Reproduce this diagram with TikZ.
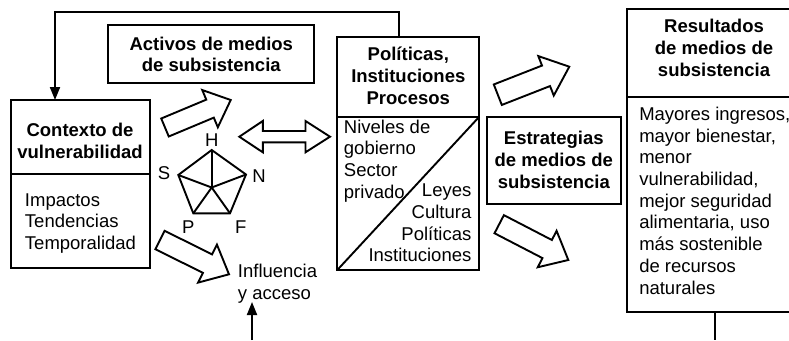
\documentclass[tikz,border=0pt]{standalone}
\usepackage{fontspec}
\setmainfont{Liberation Sans}
\usetikzlibrary{calc,arrows.meta}
\newcommand\blockarr[5]{% tail, tip, shaft half width, head half width, head length
  \path ($(#2)!#5!(#1)$) coordinate (hb);
  \draw[barr] ($(#1)!#3!90:(#2)$) -- ($(hb)!#3!-90:(#1)$) -- ($(hb)!#4!-90:(#1)$) -- (#2)
    -- ($(hb)!#4!90:(#1)$) -- ($(hb)!#3!90:(#1)$) -- ($(#1)!#3!-90:(#2)$) -- cycle;}
\begin{document}
\begin{tikzpicture}[x=1pt,y=-1pt, line width=1.9pt, line join=miter,
  box/.style={draw, inner sep=0pt, outer sep=0pt, anchor=north west},
  txt/.style={inner sep=0pt, font=\fontsize{18.5}{21.7}\selectfont},
  btxt/.style={inner sep=0pt, font=\fontsize{18.5}{21.7}\selectfont\bfseries},
  barr/.style={draw, fill=white, line join=miter},
  conn/.style={-{Triangle[length=13pt,width=10pt]}}]
\useasboundingbox (0,0) rectangle (789,340);

% boxes
\node[box, minimum width=139pt, minimum height=168.3pt] (ctx) at (11,100) {};
\node[box, minimum width=206pt, minimum height=57.7pt] (act) at (108.3,25) {};
\node[box, minimum width=142pt, minimum height=232.7pt] (pol) at (337.3,37.3) {};
\node[box, minimum width=134.3pt, minimum height=87pt] (est) at (486.7,117.3) {};
\node[box, minimum width=190pt, minimum height=303pt] (res) at (626.7,9.3) {};

% dividers
\coordinate (ctxd) at (0,174);
\draw (ctx.west |- ctxd) -- (ctx.east |- ctxd);
\coordinate (pold) at (0,116.7);
\draw (pol.west |- pold) -- (pol.east |- pold);
\draw (pol.south west) -- (pol.east |- pold);
\coordinate (resd) at (0,96.7);
\draw (res.west |- resd) -- (res.east |- resd);

% connectors
\coordinate (tl) at (55,12.3);
\coordinate (tr) at (399.3,12.3);
\draw[conn] (pol.north -| tr) -- (tr) -- (tl) -- (ctx.north -| tl);
\coordinate (resdn) at (715,340);
\draw (res.south -| resdn) -- (resdn);
\coordinate (bt) at (252,340);
\coordinate (btip) at (252,302);
\draw[conn] (bt) -- (btip);

% block arrows
\coordinate (a1t) at (165,127.5);   \coordinate (a1h) at (230.7,100);
\coordinate (a3t) at (160,240);     \coordinate (a3h) at (229,274.3);
\coordinate (a4t) at (497.8,94.7);  \coordinate (a4h) at (569.3,66.7);
\coordinate (a5t) at (499.2,224.2); \coordinate (a5h) at (568.3,260);
\blockarr{a1t}{a1h}{9.75pt}{20.2pt}{22.4pt}
\blockarr{a3t}{a3h}{10.3pt}{21.2pt}{24pt}
\blockarr{a4t}{a4h}{11pt}{21.2pt}{25pt}
\blockarr{a5t}{a5h}{10.2pt}{20.5pt}{23.8pt}
\draw[barr] (239.3,136.7) -- (262.8,121) -- (262.8,131) -- (305.5,131) -- (305.5,121)
  -- (330,136.7) -- (305.5,152.3) -- (305.5,142.3) -- (262.8,142.3) -- (262.8,152.3) -- cycle;

% pentagon
\coordinate (pH) at (211.7,150);
\coordinate (pN) at (246,174.5);
\coordinate (pF) at (230,213.3);
\coordinate (pP) at (193.3,213.3);
\coordinate (pS) at (178.3,175);
\coordinate (pc) at (211.7,187.5);
\draw (pH) -- (pN) -- (pF) -- (pP) -- (pS) -- cycle;
\foreach \v in {pH,pN,pF,pP,pS} \draw (pc) -- (\v);
\node[txt] (lH) at (211.7,140) {H};
\node[txt] (lS) at (164,173) {S};
\node[txt] (lN) at (259,175.8) {N};
\node[txt] (lP) at (188.3,226.7) {P};
\node[txt] (lF) at (240.8,226.7) {F};

% texts (anchor=base is the baseline of the last line)
\node[btxt, align=center, anchor=base] (actT) at (211.3,71.7)
  {\fontsize{18.5}{21}\selectfont Activos de medios\\de subsistencia};
\node[btxt, align=center, anchor=base] (ctxT) at (80,158.4) {Contexto de\\vulnerabilidad};
\node[txt, align=left, anchor=base west] (ctxB) at (24,249.4) {Impactos\\Tendencias\\Temporalidad};
\node[txt, align=left, anchor=base west] (infl) at (237,299.3)
  {\fontsize{18.5}{20}\selectfont Influencia\\y acceso};
\node[btxt, align=center, anchor=base] (polT) at (408.3,104.1)
  {\fontsize{18.5}{20.4}\selectfont Políticas,\\Instituciones\\Procesos};
\node[txt, align=left, anchor=base west] (polL) at (343,198.2)
  {\fontsize{18.5}{20.4}\selectfont Niveles de\\gobierno\\Sector\\privado};
\node[txt, align=right, anchor=base east] (polR) at (472.3,261.9)
  {\fontsize{18.5}{20.4}\selectfont Leyes\\Cultura\\Políticas\\Instituciones};
\node[btxt, align=center, anchor=base] (estT) at (553.8,188.3)
  {\fontsize{18.5}{20.5}\selectfont Estrategias\\de medios de\\subsistencia};
\node[btxt, align=center, anchor=base] (resT) at (714,76.1)
  {\fontsize{18.5}{19.7}\selectfont Resultados\\de medios de\\subsistencia};
\node[txt, align=left, anchor=base west] (resB) at (638.3,294)
  {\fontsize{18.5}{20.5}\selectfont Mayores ingresos,\\mayor bienestar,\\menor\\vulnerabilidad,\\mejor seguridad\\alimentaria, uso\\más sostenible\\de recursos\\naturales};
\end{tikzpicture}
\end{document}
